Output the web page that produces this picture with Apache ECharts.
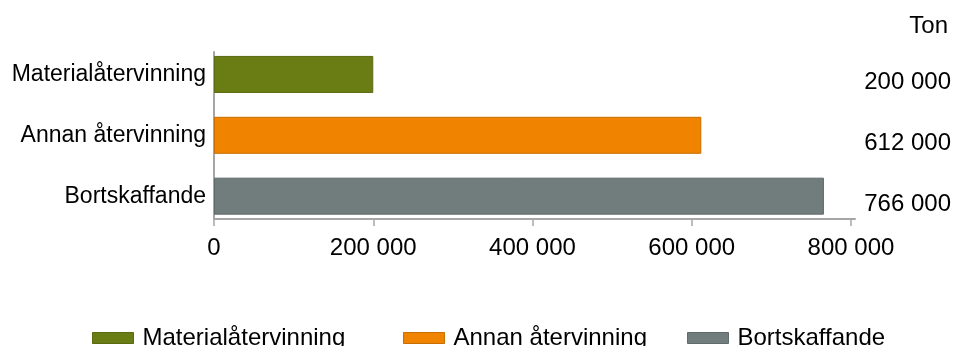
<!DOCTYPE html>
<html>
<head>
<meta charset="utf-8">
<script src="https://cdn.jsdelivr.net/npm/echarts@6/dist/echarts.min.js"></script>
<style>html,body{margin:0;padding:0;background:#fff}#c{width:954px;height:346px}</style>
</head>
<body>
<div id="c"></div>
<script>
const categories = ['Materialåtervinning', 'Annan återvinning', 'Bortskaffande'];
const values = [200000, 612000, 766000];
const colors = ['#6a7d14', '#f08300', '#717d7d'];
const borderColors = ['#5a6a10', '#c86d00', '#5f6a6a'];
const xTicks = [0, 200000, 400000, 600000, 800000];
const unitLabel = 'Ton';

const fmt = v => String(v).replace(/\B(?=(\d{3})+(?!\d))/g, ' ');
const FONT = 'Liberation Sans';
const xMin = xTicks[0], xMax = xTicks[xTicks.length - 1];
const plotW = 637, axisExtra = 4;

const chart = echarts.init(document.getElementById('c'));
const series = categories.map((name, i) => ({
  name: name,
  type: 'bar',
  stack: 'all',
  xAxisIndex: 0,
  yAxisIndex: 0,
  barWidth: 37,
  itemStyle: { color: colors[i], borderColor: borderColors[i], borderWidth: 1 },
  data: categories.map((c, j) => j === i ? values[i] : '-')
}));

const legendLefts = [92, 403, 687];
const legends = categories.map((name, i) => ({
  data: [name], left: legendLefts[i], top: 326,
  itemWidth: 41, itemHeight: 11, icon: 'rect',
  itemStyle: { borderColor: borderColors[i], borderWidth: 1 },
  textStyle: { fontFamily: FONT, fontSize: 24, color: '#000', padding: [0, 0, 0, 4] },
  padding: 0
}));

chart.setOption({
  animation: false,
  textStyle: { fontFamily: FONT },
  title: {
    text: unitLabel, right: 1, top: 9,
    textStyle: { fontFamily: FONT, fontSize: 24, fontWeight: 'normal', color: '#000' }
  },
  legend: legends,
  grid: [
    { left: 214, right: 103, top: 44, height: 182.6 },
    { left: 214, right: 103 - axisExtra, top: 52, bottom: 127 }
  ],
  xAxis: [
    { gridIndex: 0, type: 'value', min: xMin, max: xMax, show: false },
    {
      gridIndex: 1, type: 'value', min: xMin, max: xMax * (plotW + axisExtra) / plotW,
      axisLine: { show: true, lineStyle: { color: '#a6a6a6', width: 2 } },
      axisTick: { show: true, length: 7, customValues: xTicks, lineStyle: { color: '#a6a6a6', width: 1.5 } },
      splitLine: { show: false },
      axisLabel: { fontFamily: FONT, fontSize: 24, color: '#000', margin: 17, customValues: xTicks, formatter: v => fmt(v) }
    }
  ],
  yAxis: [
    {
      gridIndex: 0, type: 'category', inverse: true, data: categories,
      axisLine: { show: false }, axisTick: { show: false },
      axisLabel: { fontFamily: FONT, fontSize: 23, color: '#000', margin: 8 }
    },
    {
      gridIndex: 0, type: 'category', inverse: true, position: 'right', data: values.map(fmt),
      axisLine: { show: false }, axisTick: { show: false },
      axisLabel: { fontFamily: FONT, fontSize: 24, color: '#000', align: 'right', margin: 100, verticalAlign: 'top', lineHeight: 16 }
    },
    {
      gridIndex: 1, type: 'value', min: 0, max: 1,
      axisLine: { show: true, lineStyle: { color: '#a6a6a6', width: 2 } },
      axisTick: { show: false }, axisLabel: { show: false }, splitLine: { show: false }
    }
  ],
  series: series
});
</script>
</body>
</html>
